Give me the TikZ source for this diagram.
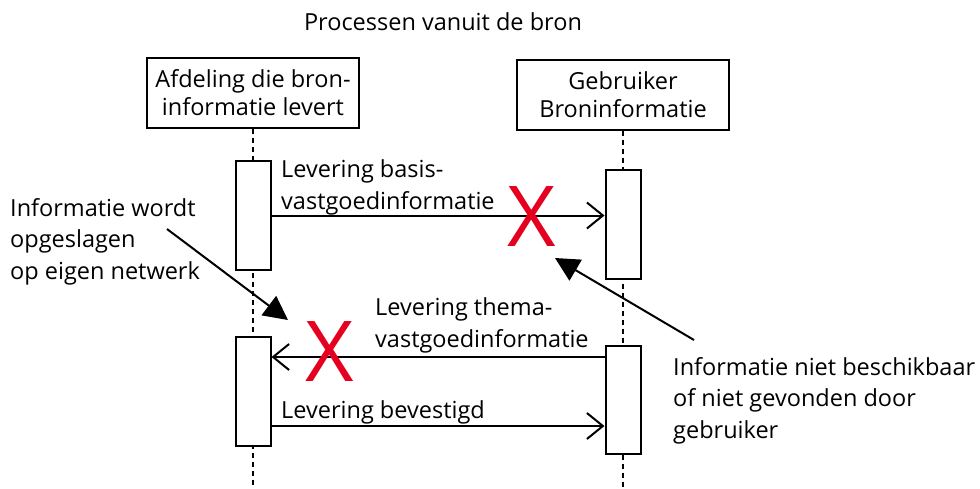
\documentclass[tikz,border=0pt]{standalone}
\usepackage{fontspec}
\setmainfont{Open Sans}
\usetikzlibrary{arrows.meta,calc}
\definecolor{xred}{RGB}{228,0,30}
\begin{document}
\begin{tikzpicture}[x=1pt,y=-1pt,
  txt/.style={font=\fontsize{23.5}{31.5}\selectfont, inner sep=0pt, align=left},
  actor/.style={draw, line width=2pt, minimum width=212pt, minimum height=70pt,
    inner sep=0pt, align=center, font=\fontsize{23.5}{28}\selectfont},
  act/.style={draw, line width=2pt, fill=white, minimum width=35pt, inner sep=0pt},
  life/.style={line width=2pt, dash pattern=on 5pt off 4pt},
  msg/.style={line width=2pt, -{Straight Barb[length=16pt,width=26pt,line width=2pt]}},
  note/.style={line width=2pt, -{Triangle[length=24pt,width=24pt]}},
  cross/.style={text=xred, font=\fontsize{84}{84}\selectfont, inner sep=0pt}
]
\useasboundingbox (0,0) rectangle (980,488);

% title
\node[txt, anchor=base] (title) at (443,30) {Processen vanuit de bron};

% participants
\node[actor] (src) at (253,93) {Afdeling die bron-\\informatie levert};
\node[actor] (usr) at (623,94.5) {Gebruiker\\Broninformatie};

% lifelines
\coordinate (end) at (0,488);
\draw[life] (src.south) -- (src.south |- end);
\draw[life] (usr.south) -- (usr.south |- end);

% activation bars
\node[act, minimum height=109pt] (sa1) at (253,215.5) {};
\node[act, minimum height=109pt] (ua1) at (623,224.5) {};
\node[act, minimum height=109pt] (sa2) at (253,391.5) {};
\node[act, minimum height=108pt] (ua2) at (623,400) {};

% messages
\coordinate (m2) at (0,357);
\coordinate (m3) at (0,426);
\draw[msg] (sa1.east) -- (sa1.east -| ua1.west);
\draw[msg] (ua2.west |- m2) -- (sa2.east |- m2);
\draw[msg] (sa2.east |- m3) -- (ua2.west |- m3);

% message labels (base anchor sits on the last line)
\node[txt, anchor=base west] (l1) at (281,209) {Levering basis-\\vastgoedinformatie};
\node[txt, anchor=base west] (l2) at (375,347) {Levering thema-\\vastgoedinformatie};
\node[txt, anchor=base west] (l3) at (281,418) {Levering bevestigd};

% failed deliveries
\node[cross] (x1) at (532,217) {X};
\node[cross] (x2) at (330,352) {X};

% annotations
\node[txt, anchor=base west] (nl) at (10,279) {Informatie wordt\\opgeslagen\\op eigen netwerk};
\node[txt, anchor=base west] (nr) at (673,438) {Informatie niet beschikbaar\\of niet gevonden door\\gebruiker};
\coordinate (nls) at (167,229);
\coordinate (nlt) at (288,320);
\coordinate (nrs) at (694,340);
\coordinate (nrt) at (555,258);
\draw[note] (nls) -- (nlt);
\draw[note] (nrs) -- (nrt);
\end{tikzpicture}
\end{document}
